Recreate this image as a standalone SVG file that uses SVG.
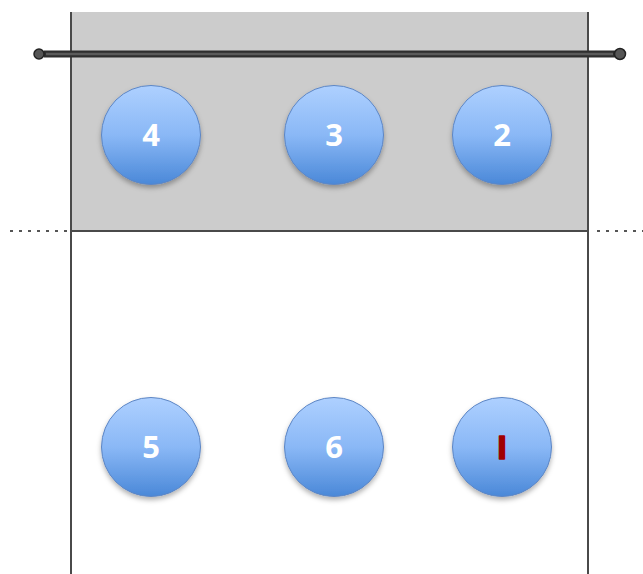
<svg xmlns="http://www.w3.org/2000/svg" width="643" height="574" viewBox="0 0 643 574">
<defs>
<linearGradient id="g" x1="0" y1="0" x2="0" y2="1">
<stop offset="0" stop-color="#aed0ff"/>
<stop offset="0.5" stop-color="#8ab8f6"/>
<stop offset="1" stop-color="#4a88d8"/>
</linearGradient>
<filter id="sh" x="-20%" y="-20%" width="140%" height="150%">
<feDropShadow dx="0" dy="3" stdDeviation="2.5" flood-color="#000" flood-opacity="0.3"/>
</filter>
<style>
.p{fill:url(#g);stroke:#5d86c4;stroke-width:1;filter:url(#sh)}
.t{font-family:"Open Sans","Liberation Sans",sans-serif;font-weight:bold;font-size:31px;fill:#fff;text-anchor:middle}
.c{stroke:#4a4a4a;stroke-width:2;fill:none}
.d{stroke:#555;stroke-width:2;stroke-dasharray:3 6;fill:none}
</style>
</defs>
<g id="court">
<rect x="71" y="12" width="517" height="219" fill="#cccccc"/>
<line class="c" x1="71" y1="12" x2="71" y2="574"/>
<line class="c" x1="588" y1="12" x2="588" y2="574"/>
<line class="c" x1="71" y1="231" x2="588" y2="231"/>
<line class="d" x1="10" y1="231" x2="70" y2="231"/>
<line class="d" x1="597" y1="231" x2="643" y2="231"/>
</g>
<g id="net">
<line x1="44" y1="54" x2="615" y2="54" stroke="#2e2e2e" stroke-width="7"/>
<line x1="46" y1="54" x2="613" y2="54" stroke="#5a5a5a" stroke-width="2.5"/>
<circle cx="39" cy="54" r="5" fill="#555" stroke="#222" stroke-width="1.5"/>
<circle cx="620" cy="54" r="5.5" fill="#555" stroke="#222" stroke-width="1.5"/>
</g>
<g id="p4"><circle class="p" cx="151" cy="135" r="49.5"/><text class="t" x="151" y="146">4</text></g>
<g id="p3"><circle class="p" cx="334" cy="135" r="49.5"/><text class="t" x="334" y="146">3</text></g>
<g id="p2"><circle class="p" cx="502" cy="135" r="49.5"/><text class="t" x="502" y="146">2</text></g>
<g id="p5"><circle class="p" cx="151" cy="447" r="49.5"/><text class="t" x="151" y="458">5</text></g>
<g id="p6"><circle class="p" cx="334" cy="447" r="49.5"/><text class="t" x="334" y="458">6</text></g>
<g id="p1"><circle class="p" cx="502" cy="447" r="49.5"/><text class="t" x="502" y="459" style="font-family:'Liberation Sans',sans-serif;font-size:34px;fill:#a00000;stroke:#a00000;stroke-width:1.5;stroke-linejoin:round">I</text></g>
</svg>
